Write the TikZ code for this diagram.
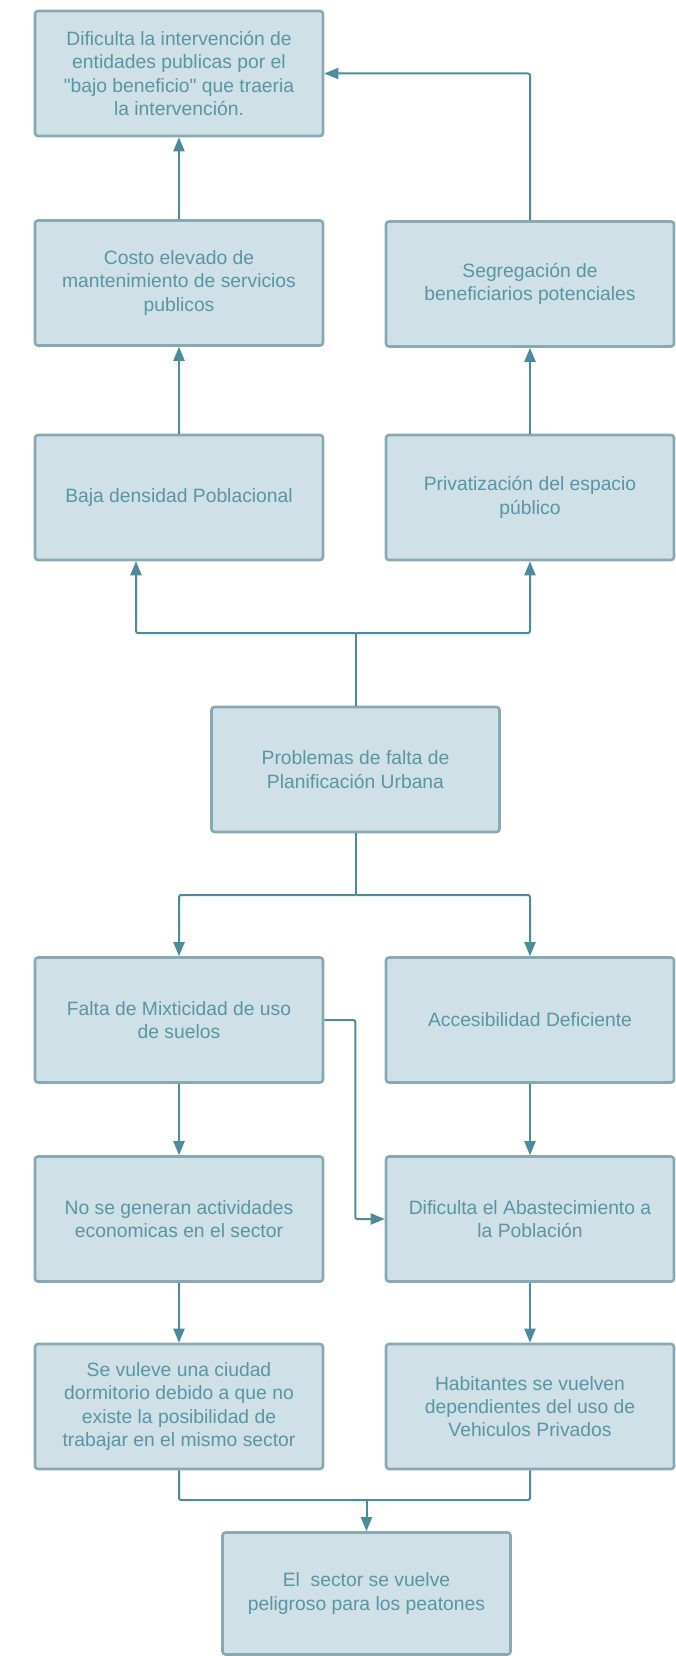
\documentclass[tikz,border=0pt]{standalone}
\usepackage{fontspec}
\setmainfont{Liberation Sans}[Ligatures=TeXOff]
\usetikzlibrary{arrows.meta}
\definecolor{boxfill}{HTML}{CFE0E7}
\definecolor{boxline}{HTML}{88A9B2}
\definecolor{linkcol}{HTML}{4E8B9A}
\definecolor{txtcol}{HTML}{5A95A6}
\begin{document}
\begin{tikzpicture}[x=1pt,y=-1pt,
  stepbox/.style={draw=boxline, line width=2.6pt, fill=boxfill, rounded corners=3pt,
    minimum width=288pt, minimum height=125pt, inner sep=0pt, align=center,
    text=txtcol, font=\fontsize{19.3}{23.3}\selectfont},
  link/.style={draw=linkcol, line width=2pt, rounded corners=2pt},
  arr/.style={link, -{Triangle[width=11pt,length=14pt]}}]
\useasboundingbox (0,0) rectangle (675,1656);

% boxes
\node[stepbox] (dif)   at (179,73.5)   {Dificulta la intervención de\\entidades publicas por el\\"bajo beneficio" que traeria\\la intervención.};
\node[stepbox] (costo) at (179,283)    {Costo elevado de\\mantenimiento de servicios\\publicos};
\node[stepbox] (seg)   at (530,284)    {Segregación de\\beneficiarios potenciales};
\node[stepbox] (baja)  at (179,497.5)  {Baja densidad Poblacional};
\node[stepbox] (priv)  at (530,497.5)  {Privatización del espacio\\público};
\node[stepbox] (prob)  at (355.5,769.5){Problemas de falta de\\Planificación Urbana};
\node[stepbox] (falta) at (179,1020)   {Falta de Mixticidad de uso\\de suelos};
\node[stepbox] (acc)   at (530,1020)   {Accesibilidad Deficiente};
\node[stepbox] (nogen) at (179,1219)   {No se generan actividades\\economicas en el sector};
\node[stepbox] (abast) at (530,1219)   {Dificulta el Abastecimiento a\\la Población};
\node[stepbox] (dorm)  at (179,1406.5) {Se vuleve una ciudad\\dormitorio debido a que no\\existe la posibilidad de\\trabajar en el mismo sector};
\node[stepbox] (hab)   at (530,1406.5) {Habitantes se vuelven\\dependientes del uso de\\Vehiculos Privados};
\node[stepbox, minimum height=122pt] (pel) at (366.5,1593.5) {El\ \ sector se vuelve\\peligroso para los peatones};

% upper half
\draw[arr] (costo.north) -- (dif.south);
\draw[arr] (seg.north) |- (dif.east);
\draw[arr] (baja.north) -- (costo.south);
\draw[arr] (priv.north) -- (seg.south);
\coordinate (up) at (355.5,633);
\draw[link] (prob.north) -- (up);
\draw[arr] (up) -| ([xshift=-43pt]baja.south);
\draw[arr] (up) -| (priv.south);

% lower half
\coordinate (down) at (355.5,895);
\draw[link] (prob.south) -- (down);
\draw[arr] (down) -| (falta.north);
\draw[arr] (down) -| (acc.north);
\draw[arr] (falta.south) -- (nogen.north);
\draw[arr] (acc.south) -- (abast.north);
\draw[arr] (falta.east) -- ++(31,0) |- (abast.west);
\draw[arr] (nogen.south) -- (dorm.north);
\draw[arr] (abast.south) -- (hab.north);
\coordinate (merge) at (366.5,1500);
\draw[link] (dorm.south) |- (merge -| hab.south) -- (hab.south);
\draw[arr] (merge) -- (pel.north);
\end{tikzpicture}
\end{document}
